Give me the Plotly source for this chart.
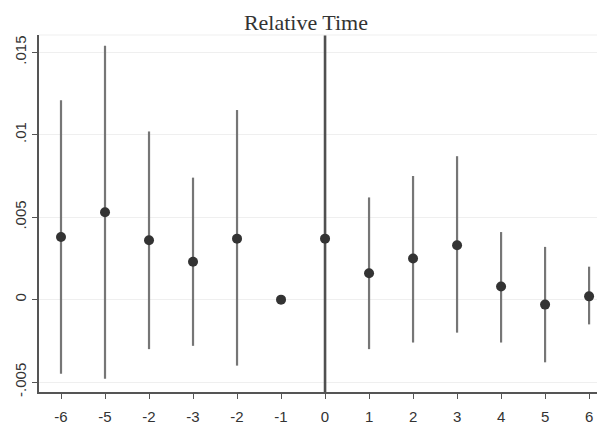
import plotly.graph_objects as go

# event-study coefficients
rel_time = ["-6", "-5", "-2", "-3", "-2", "-1", "0", "1", "2", "3", "4", "5", "6"]
coef = [0.0038, 0.0053, 0.0036, 0.0023, 0.0037, 0.0, 0.0037, 0.0016, 0.0025, 0.0033, 0.0008, -0.0003, 0.0002]
ci_low = [-0.0045, -0.0048, -0.0030, -0.0028, -0.0040, 0.0, -0.0090, -0.0030, -0.0026, -0.0020, -0.0026, -0.0038, -0.0015]
ci_high = [0.0121, 0.0154, 0.0102, 0.0074, 0.0115, 0.0, 0.0200, 0.0062, 0.0075, 0.0087, 0.0041, 0.0032, 0.0020]

pos = list(range(len(rel_time)))

fig = go.Figure()

# confidence intervals as vertical spikes
for i in pos:
    if ci_low[i] == ci_high[i]:
        continue
    fig.add_trace(go.Scatter(
        x=[i, i], y=[ci_low[i], ci_high[i]], mode="lines",
        line=dict(color="#505050" if rel_time[i] == "0" else "#767676",
                  width=2.6 if rel_time[i] == "0" else 2.2),
        hoverinfo="skip", showlegend=False))

fig.add_trace(go.Scatter(
    x=pos, y=coef, mode="markers",
    marker=dict(color="#333333", size=10),
    showlegend=False))

fig.update_layout(
    width=597, height=425,
    margin=dict(l=39, r=0, t=35, b=25),
    plot_bgcolor="white",
    paper_bgcolor="white",
    # title sits over the middle of the (cropped) plot, i.e. above the 0 column
    title=dict(text="Relative Time", x=0.5125, xanchor="center", y=0.947, yanchor="middle",
               font=dict(family="Liberation Serif, Times New Roman, serif", size=22, color="#333333")),
    font=dict(family="Liberation Sans, Arial, sans-serif", size=15, color="#333333"),
    xaxis=dict(
        tickmode="array", tickvals=pos, ticktext=rel_time,
        range=[-0.5, 12.18], showgrid=False, zeroline=False,
        showline=True, linecolor="#555555", linewidth=1.5,
        ticks="outside", ticklen=5, tickcolor="#555555", tickwidth=1.2,
        ticklabelstandoff=5,
    ),
    yaxis=dict(
        tickmode="array", tickvals=[-0.005, 0, 0.005, 0.01, 0.015],
        ticktext=["-.005", "0", ".005", ".01", ".015"],
        tickangle=-90,
        range=[-0.0056, 0.01605], showgrid=True, gridcolor="#efefef", gridwidth=1.2,
        zeroline=False,
        showline=True, linecolor="#555555", linewidth=1.5,
        ticks="outside", ticklen=5, tickcolor="#555555", tickwidth=1.2,
    ),
    shapes=[dict(type="line", xref="paper", yref="paper", x0=0, x1=1, y0=1, y1=1,
                 line=dict(color="#f0f0f0", width=1.2))],
)

# no body margin and no extra page height, so the figure fills the window exactly
page_fix = (
    "document.documentElement.style.overflow='hidden';"
    "document.body.style.margin='0';"
    "document.body.style.overflow='hidden';"
    "var g=document.getElementById('{plot_id}');"
    "g.style.display='block';"
    "g.parentNode.style.height='425px';"
    "g.parentNode.style.overflow='hidden';"
)
fig.write_html("out.html", config={"displayModeBar": False}, post_script=page_fix)
